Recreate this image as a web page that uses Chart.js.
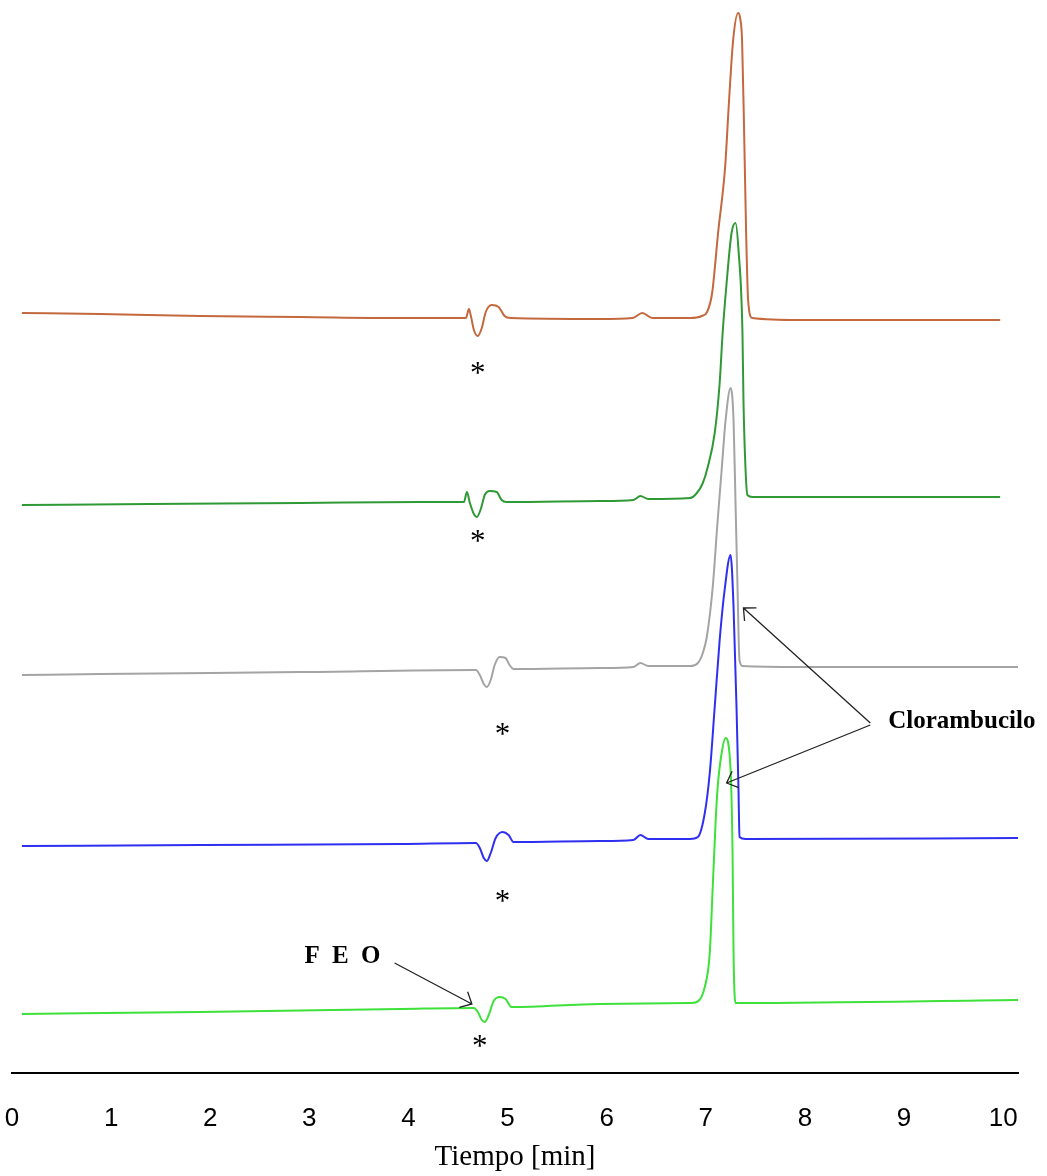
<!DOCTYPE html>
<html>
<head>
<meta charset="utf-8">
<script src="https://cdn.jsdelivr.net/npm/chart.js@4.4.1/dist/chart.umd.min.js"></script>
<style>
  html, body { margin: 0; padding: 0; background: #fff; }
  #wrap { width: 1047px; height: 1176px; position: relative; }
</style>
</head>
<body>
<div id="wrap"><canvas id="chart"></canvas></div>
<script>
// Cromatogramas (señal en unidades arbitrarias, apilados)
const tickValues = [0, 1, 2, 3, 4, 5, 6, 7, 8, 9, 10];

// traza 1 (marrón)
const t1 = [0.10, 0.89, 1.90, 2.91, 3.92, 4.58, 4.61, 4.63, 4.66, 4.70, 4.74, 4.78, 4.84, 4.91, 4.97, 5.03, 5.93, 6.26, 6.36, 6.46, 6.84, 6.96, 7.013, 7.064, 7.124, 7.195, 7.235, 7.276, 7.326, 7.346, 7.366, 7.387, 7.407, 7.427, 7.467, 7.95, 9.97];
const s1 = [760, 759, 757, 756, 755, 755, 764, 757, 743, 737, 745, 761, 768, 766, 757, 755, 754, 755, 760, 755, 755, 757, 761, 780, 840, 906, 973, 1033, 1060, 1055, 1033, 940, 840, 773, 755, 753, 753];

// traza 2 (verde oscuro)
const t2 = [0.10, 1.39, 2.91, 4.12, 4.56, 4.59, 4.62, 4.66, 4.69, 4.73, 4.77, 4.82, 4.89, 4.94, 4.99, 5.93, 6.27, 6.34, 6.42, 6.84, 6.91, 6.97, 7.02, 7.09, 7.14, 7.17, 7.21, 7.26, 7.30, 7.33, 7.37, 7.38, 7.40, 7.42, 7.47, 9.97];
const s2 = [568, 569, 570, 571, 571, 581, 570, 559, 556, 564, 578, 582, 581, 573, 571, 572, 573, 577, 574, 575, 580, 590, 606, 640, 690, 740, 790, 840, 850, 823, 740, 673, 606, 578, 576, 576];

// traza 3 (gris)
const t3 = [0.10, 0.89, 2.91, 4.68, 4.72, 4.76, 4.79, 4.83, 4.87, 4.92, 4.98, 5.02, 5.06, 5.93, 6.27, 6.34, 6.42, 6.84, 6.92, 6.97, 7.01, 7.07, 7.12, 7.16, 7.20, 7.25, 7.28, 7.30, 7.32, 7.34, 7.37, 7.95, 10.15];
const s3 = [398, 399, 401, 403, 398, 389, 386, 393, 408, 416, 415, 408, 404, 405, 406, 410, 407, 407, 410, 420, 436, 486, 553, 603, 653, 685, 653, 570, 486, 413, 407, 406, 406];

// traza 4 (azul)
const t4 = [0.10, 1.90, 3.92, 4.68, 4.72, 4.76, 4.79, 4.83, 4.88, 4.95, 5.01, 5.06, 5.93, 6.27, 6.34, 6.42, 6.84, 6.92, 6.99, 7.04, 7.09, 7.14, 7.19, 7.25, 7.28, 7.31, 7.33, 7.34, 7.40, 10.15];
const s4 = [227, 228, 229, 230, 225, 215, 212, 220, 235, 241, 238, 231, 232, 233, 238, 234, 234, 236, 260, 300, 366, 433, 483, 518, 466, 366, 283, 236, 234, 235];

// traza 5 (verde claro)
const t5 = [0.10, 1.90, 3.92, 4.66, 4.70, 4.74, 4.77, 4.81, 4.86, 4.92, 4.98, 5.04, 5.93, 6.84, 6.91, 6.99, 7.04, 7.07, 7.10, 7.12, 7.16, 7.20, 7.25, 7.27, 7.28, 7.30, 7.35, 10.15];
const s5 = [59, 61, 64, 65, 61, 53, 51, 58, 72, 76, 74, 66, 69, 70, 71, 86, 120, 186, 253, 286, 320, 335, 303, 220, 120, 70, 70, 73];

const traceTimes = [t1, t2, t3, t4, t5];
const traceSignals = [s1, s2, s3, s4, s5];
const traceColors = ['#c4683e', '#2f9a35', '#a4a4a4', '#2f2ff2', '#3ee03a'];

let datasets = [];
for (let i = 0; i < traceTimes.length; i++) {
  datasets.push({
    data: traceTimes[i].map((t, j) => ({ x: t, y: traceSignals[i][j] })),
    borderColor: traceColors[i],
    borderWidth: 2,
    pointRadius: 0,
    fill: false,
    cubicInterpolationMode: 'monotone'
  });
}

function arrow(ctx, x1, y1, x2, y2) {
  ctx.beginPath();
  ctx.moveTo(x1, y1);
  ctx.lineTo(x2, y2);
  const a = Math.atan2(y1 - y2, x1 - x2);
  const len = 13, spread = 0.75;
  ctx.moveTo(x2 + len * Math.cos(a - spread), y2 + len * Math.sin(a - spread));
  ctx.lineTo(x2, y2);
  ctx.lineTo(x2 + len * Math.cos(a + spread), y2 + len * Math.sin(a + spread));
  ctx.stroke();
}

// asteriscos, FEO y Clorambucilo
const labelsPlugin = {
  id: 'labels',
  afterDatasetsDraw(chart) {
    const ctx = chart.ctx;
    const x = chart.scales.x, y = chart.scales.y;
    const px = v => x.getPixelForValue(v);
    const py = v => y.getPixelForValue(v);
    ctx.save();
    ctx.fillStyle = '#000';
    ctx.font = '31px "Liberation Serif", serif';
    ctx.textAlign = 'center';
    ctx.textBaseline = 'alphabetic';
    [[4.70, 706], [4.70, 538], [4.95, 345], [4.95, 178], [4.72, 33]].forEach(p => {
      ctx.fillText('*', px(p[0]), py(p[1]) + 16);
    });

    ctx.font = 'bold 25px "Liberation Serif", serif';
    ctx.textBaseline = 'middle';
    ctx.letterSpacing = '3px';
    ctx.fillText('F E O', px(3.35), py(116));
    ctx.letterSpacing = '0px';
    ctx.textAlign = 'left';
    ctx.font = 'bold 25px "Liberation Serif", serif';
    ctx.fillText('Clorambucilo', px(8.84), py(351));

    ctx.strokeStyle = '#222';
    ctx.lineWidth = 1.3;
    arrow(ctx, px(3.86), py(110), px(4.64), py(69));
    arrow(ctx, px(8.66), py(350), px(7.38), py(465));
    arrow(ctx, px(8.66), py(348), px(7.21), py(290));
    ctx.restore();
  }
};

new Chart(document.getElementById('chart'), {
  type: 'line',
  data: { datasets: datasets },
  options: {
    responsive: true,
    maintainAspectRatio: false,
    animation: false,
    layout: { padding: { left: 12, right: 29, top: 0, bottom: 0 } },
    plugins: { legend: { display: false }, tooltip: { enabled: false } },
    scales: {
      x: {
        type: 'linear',
        min: 0,
        max: 10.15,
        afterBuildTicks: scale => { scale.ticks = tickValues.map(v => ({ value: v })); },
        afterFit: scale => {
          scale.height = 103;
          scale.paddingLeft = 0;
          scale.paddingRight = 0;
        },
        grid: { display: false, drawTicks: false },
        border: { display: true, color: '#000', width: 2 },
        ticks: {
          color: '#000',
          padding: 30,
          maxRotation: 0,
          font: { family: '"Liberation Sans", Arial, sans-serif', size: 26 }
        },
        title: {
          display: true,
          text: 'Tiempo [min]',
          color: '#000',
          padding: { top: 0, bottom: 1 },
          font: { family: '"Liberation Serif", "Times New Roman", serif', size: 29 }
        }
      },
      y: {
        display: false,
        min: 0,
        max: 1073
      }
    }
  },
  plugins: [labelsPlugin]
});
</script>
</body>
</html>
